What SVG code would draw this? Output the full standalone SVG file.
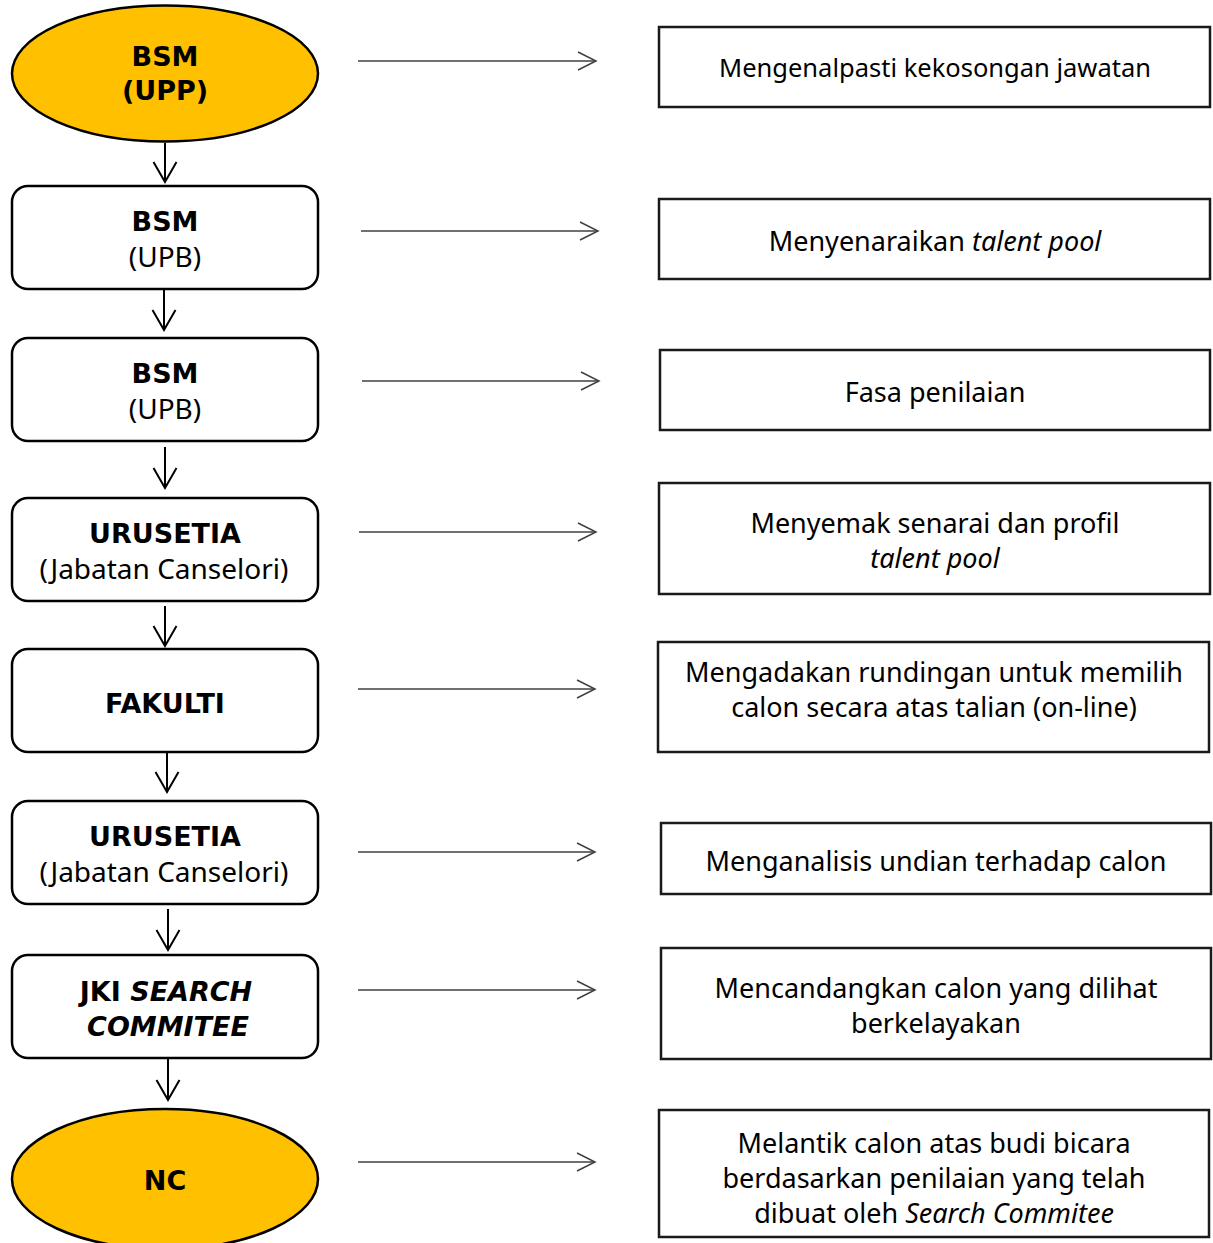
<svg xmlns="http://www.w3.org/2000/svg" width="1213" height="1243" viewBox="0 0 1213 1243">
<style>
.ell{fill:#FFC000;stroke:#000;stroke-width:2.5}
.rbox{fill:#fff;stroke:#000;stroke-width:2.5}
.sbox{fill:#fff;stroke:#1a1a1a;stroke-width:2.5}
.lt{font-family:"DejaVu Sans",sans-serif;font-size:27px;font-weight:bold;text-anchor:middle;fill:#000}
.ln{font-family:"Noto Sans","DejaVu Sans",sans-serif;font-size:28px;text-anchor:middle;fill:#000}
.rt{font-family:"Noto Sans","DejaVu Sans",sans-serif;font-size:27px;text-anchor:middle;fill:#000}
.it{font-style:italic}
.h{stroke:#404040;stroke-width:1.5;fill:none}
.v{stroke:#000;stroke-width:2;fill:none}
</style>
<defs>
<marker id="ah" markerUnits="userSpaceOnUse" markerWidth="22" markerHeight="22" viewBox="0 0 22 22" refX="20" refY="11" orient="auto" overflow="visible">
<path d="M2,2 L20,11 L2,20" fill="none" stroke="#404040" stroke-width="1.5"/>
</marker>
<marker id="av" markerUnits="userSpaceOnUse" markerWidth="26" markerHeight="26" viewBox="0 0 26 26" refX="21" refY="13" orient="auto" overflow="visible">
<path d="M1,1.5 L21,13 L1,24.5" fill="none" stroke="#000" stroke-width="2"/>
</marker>
</defs>
<rect width="1213" height="1243" fill="#fff"/>

<g id="connectors">
<line class="v" x1="165" y1="143" x2="165" y2="182" marker-end="url(#av)"/>
<line class="v" x1="164" y1="290" x2="164" y2="330" marker-end="url(#av)"/>
<line class="v" x1="165" y1="447" x2="165" y2="488" marker-end="url(#av)"/>
<line class="v" x1="165" y1="606" x2="165" y2="646" marker-end="url(#av)"/>
<line class="v" x1="167" y1="753" x2="167" y2="792" marker-end="url(#av)"/>
<line class="v" x1="168" y1="909" x2="168" y2="950" marker-end="url(#av)"/>
<line class="v" x1="168" y1="1059" x2="168" y2="1100" marker-end="url(#av)"/>
<line class="h" x1="358" y1="61" x2="596" y2="61" marker-end="url(#ah)"/>
<line class="h" x1="361" y1="231" x2="598" y2="231" marker-end="url(#ah)"/>
<line class="h" x1="362" y1="381" x2="599" y2="381" marker-end="url(#ah)"/>
<line class="h" x1="359" y1="532" x2="596" y2="532" marker-end="url(#ah)"/>
<line class="h" x1="358" y1="689" x2="595" y2="689" marker-end="url(#ah)"/>
<line class="h" x1="358" y1="852" x2="595" y2="852" marker-end="url(#ah)"/>
<line class="h" x1="358" y1="990" x2="595" y2="990" marker-end="url(#ah)"/>
<line class="h" x1="358" y1="1162" x2="595" y2="1162" marker-end="url(#ah)"/>
</g>

<g id="n1">
<ellipse class="ell" cx="165" cy="73.5" rx="153" ry="68"/>
<text class="lt" x="165" y="66">BSM</text>
<text class="lt" x="165" y="100">(UPP)</text>
</g>
<g id="n2">
<rect class="rbox" x="12" y="186" width="306" height="103" rx="16"/>
<text class="lt" x="165" y="231">BSM</text>
<text class="ln" x="165" y="267">(UPB)</text>
</g>
<g id="n3">
<rect class="rbox" x="12" y="338" width="306" height="103" rx="16"/>
<text class="lt" x="165" y="383">BSM</text>
<text class="ln" x="165" y="419">(UPB)</text>
</g>
<g id="n4">
<rect class="rbox" x="12" y="498" width="306" height="103" rx="16"/>
<text class="lt" x="165" y="543">URUSETIA</text>
<text class="ln" x="164" y="579">(Jabatan Canselori)</text>
</g>
<g id="n5">
<rect class="rbox" x="12" y="649" width="306" height="103" rx="16"/>
<text class="lt" x="165" y="713">FAKULTI</text>
</g>
<g id="n6">
<rect class="rbox" x="12" y="801" width="306" height="103" rx="16"/>
<text class="lt" x="165" y="846">URUSETIA</text>
<text class="ln" x="164" y="882">(Jabatan Canselori)</text>
</g>
<g id="n7">
<rect class="rbox" x="12" y="955" width="306" height="103" rx="16"/>
<text class="lt" x="166" y="1001">JKI <tspan class="it">SEARCH</tspan></text>
<text class="lt it" x="168" y="1036">COMMITEE</text>
</g>
<g id="n8">
<ellipse class="ell" cx="165" cy="1179" rx="153" ry="70"/>
<text class="lt" x="165" y="1190">NC</text>
</g>

<g id="d1">
<rect class="sbox" x="659" y="27" width="551" height="80"/>
<text class="rt" x="935" y="77" style="font-size:25.5px">Mengenalpasti kekosongan jawatan</text>
</g>
<g id="d2">
<rect class="sbox" x="659" y="199" width="551" height="80"/>
<text class="rt" x="935" y="251">Menyenaraikan <tspan class="it">talent pool</tspan></text>
</g>
<g id="d3">
<rect class="sbox" x="660" y="350" width="550" height="80"/>
<text class="rt" x="935" y="402">Fasa penilaian</text>
</g>
<g id="d4">
<rect class="sbox" x="659" y="483" width="551" height="111"/>
<text class="rt" x="935" y="533">Menyemak senarai dan profil</text>
<text class="rt it" x="935" y="568">talent pool</text>
</g>
<g id="d5">
<rect class="sbox" x="658" y="642" width="551" height="110"/>
<text class="rt" x="934" y="682">Mengadakan rundingan untuk memilih</text>
<text class="rt" x="934" y="717">calon secara atas talian (on-line)</text>
</g>
<g id="d6">
<rect class="sbox" x="661" y="823" width="550" height="71"/>
<text class="rt" x="936" y="871">Menganalisis undian terhadap calon</text>
</g>
<g id="d7">
<rect class="sbox" x="661" y="948" width="550" height="111"/>
<text class="rt" x="936" y="998">Mencandangkan calon yang dilihat</text>
<text class="rt" x="936" y="1033">berkelayakan</text>
</g>
<g id="d8">
<rect class="sbox" x="659" y="1110" width="550" height="127"/>
<text class="rt" x="934" y="1153">Melantik calon atas budi bicara</text>
<text class="rt" x="934" y="1188">berdasarkan penilaian yang telah</text>
<text class="rt" x="934" y="1223">dibuat oleh <tspan class="it">Search Commitee</tspan></text>
</g>
</svg>
